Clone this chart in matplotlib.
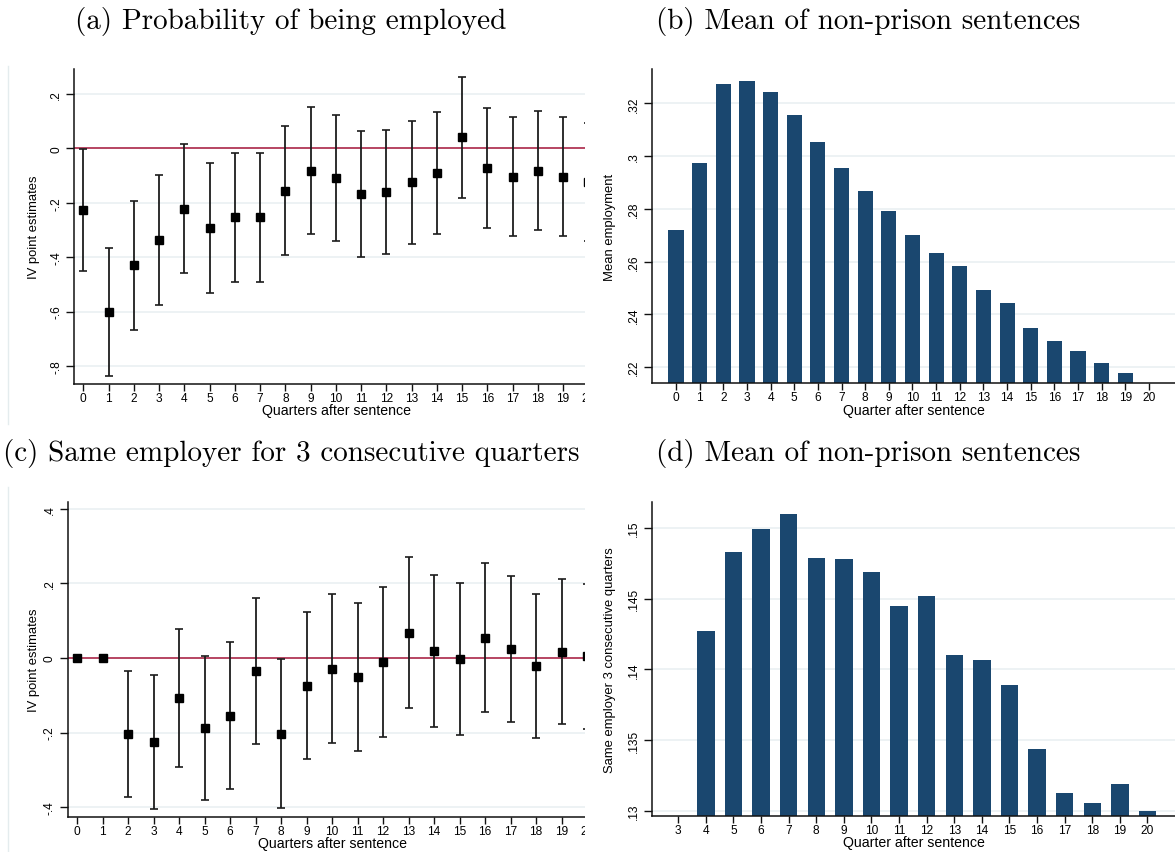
import matplotlib.pyplot as plt
from matplotlib.patches import Rectangle
from matplotlib.lines import Line2D

W, H = 1175, 853

# (a) IV estimates, probability of being employed
a_quarters = list(range(21))
a_est = [-0.227, -0.602, -0.429, -0.337, -0.223, -0.293, -0.252, -0.252, -0.157, -0.083, -0.109,
         -0.168, -0.161, -0.124, -0.091, 0.042, -0.072, -0.105, -0.085, -0.105, -0.124]
a_hi = [-0.002, -0.365, -0.192, -0.098, 0.015, -0.054, -0.016, -0.016, 0.081, 0.151, 0.123,
        0.063, 0.069, 0.102, 0.134, 0.263, 0.147, 0.115, 0.136, 0.114, 0.092]
a_lo = [-0.451, -0.837, -0.667, -0.576, -0.460, -0.531, -0.490, -0.490, -0.392, -0.316, -0.342,
        -0.401, -0.390, -0.350, -0.315, -0.181, -0.294, -0.324, -0.300, -0.321, -0.341]
a_yticks = [0.2, 0, -0.2, -0.4, -0.6, -0.8]
a_ylabels = ['.2', '0', '-.2', '-.4', '-.6', '-.8']

# (b) mean employment, non-prison sentences
b_quarters = list(range(20))
b_mean = [0.2720, 0.2974, 0.3273, 0.3285, 0.3243, 0.3156, 0.3054, 0.2955, 0.2868, 0.2792,
          0.2701, 0.2633, 0.2584, 0.2493, 0.2444, 0.2349, 0.2300, 0.2262, 0.2216, 0.2179]
b_xticks = list(range(21))
b_yticks = [0.22, 0.24, 0.26, 0.28, 0.30, 0.32]
b_ylabels = ['.22', '.24', '.26', '.28', '.3', '.32']

# (c) IV estimates, same employer 3 consecutive quarters
c_quarters = list(range(21))
c_est = [0, 0, -0.204, -0.225, -0.107, -0.188, -0.155, -0.035, -0.204, -0.075, -0.029,
         -0.051, -0.011, 0.067, 0.019, -0.003, 0.054, 0.024, -0.021, 0.016, 0.005]
c_hi = [0, 0, -0.036, -0.045, 0.079, 0.005, 0.043, 0.162, -0.004, 0.124, 0.172,
        0.148, 0.190, 0.270, 0.223, 0.200, 0.254, 0.221, 0.172, 0.211, 0.199]
c_lo = [0, 0, -0.372, -0.404, -0.291, -0.380, -0.350, -0.231, -0.402, -0.272, -0.229,
        -0.250, -0.211, -0.135, -0.186, -0.207, -0.146, -0.172, -0.215, -0.178, -0.190]
c_yticks = [0.4, 0.2, 0, -0.2, -0.4]
c_ylabels = ['.4', '.2', '0', '-.2', '-.4']

# (d) same employer 3 consecutive quarters, non-prison sentences
d_quarters = list(range(4, 21))
d_mean = [0.14273, 0.14829, 0.14994, 0.15100, 0.14787, 0.14780, 0.14693, 0.14447, 0.14520,
          0.14101, 0.14070, 0.13889, 0.13438, 0.13127, 0.13057, 0.13191, 0.13000]
d_xticks = list(range(3, 21))
d_yticks = [0.13, 0.135, 0.14, 0.145, 0.15]
d_ylabels = ['.13', '.135', '.14', '.145', '.15']

titles = ['(a) Probability of being employed', '(b) Mean of non-prison sentences',
          '(c) Same employer for 3 consecutive quarters', '(d) Mean of non-prison sentences']

navy = '#1a476f'
grid_c = '#e8eff1'
zero_c = '#a8183c'
sans = ['Liberation Sans', 'DejaVu Sans']

fig = plt.figure(figsize=(W / 100, H / 100), dpi=100)


def px_axes(l, t, r, b):
    return fig.add_axes([l / W, 1 - b / H, (r - l) / W, (b - t) / H])


def stata(ax, yticks, ylabels, xticks, xlabel, ylabel, ylab_x, xlab_y):
    for s in ['top', 'right']:
        ax.spines[s].set_visible(False)
    for s in ['left', 'bottom']:
        ax.spines[s].set_linewidth(1.1)
        ax.spines[s].set_color('#111111')
    ax.set_yticks(yticks, ylabels, rotation=90, va='center', fontsize=8.6, family=sans)
    ax.set_xticks(xticks, [str(q) for q in xticks], fontsize=8.6, family=sans)
    ax.tick_params(axis='y', length=6, width=1, pad=2.5, color='#111111')
    ax.tick_params(axis='x', length=5, width=1, pad=0.8, color='#111111')
    ax.yaxis.grid(True, color=grid_c, lw=1.1)
    ax.set_axisbelow(True)
    ax.set_xlabel(xlabel, fontsize=10.2, family=sans)
    ax.set_ylabel(ylabel, fontsize=9.4, family=sans)
    bb = ax.get_position()
    w_px = bb.width * W
    h_px = bb.height * H
    ax.yaxis.set_label_coords((ylab_x - bb.x0 * W) / w_px, 0.5)
    ax.xaxis.set_label_coords(0.5, -(xlab_y - (1 - bb.y0) * H) / h_px)


def iv_panel(ax, x, est, lo, hi):
    ax.axhline(0, color=zero_c, lw=1.1, zorder=1.5)
    yerr = [[e - l for e, l in zip(est, lo)], [h - e for e, h in zip(est, hi)]]
    ax.errorbar(x, est, yerr=yerr, fmt='s', color='black', ms=6.3, ecolor='#1c1c1c',
                elinewidth=1.3, capsize=2.9, capthick=1.2, zorder=3)


# panel a
ax_a = px_axes(74, 70, 598, 385)
iv_panel(ax_a, a_quarters, a_est, a_lo, a_hi)
ax_a.set_xlim(-0.368, 20.38)
ax_a.set_ylim(-0.8665, 0.2915)
stata(ax_a, a_yticks, a_ylabels, a_quarters, 'Quarters after sentence', 'IV point estimates', 39.5, 404.5)

# panel b
ax_b = px_axes(652, 70, 1175, 384.3)
ax_b.bar(b_quarters, b_mean, width=0.64, color=navy, zorder=2)
ax_b.set_xlim(-1.015, 21.1)
ax_b.set_ylim(0.2139, 0.333)
stata(ax_b, b_yticks, b_ylabels, b_xticks, 'Quarter after sentence', 'Mean employment', 616, 404)

# panel c
ax_c = px_axes(67.7, 502.7, 598, 817.7)
iv_panel(ax_c, c_quarters, c_est, c_lo, c_hi)
ax_c.set_xlim(-0.365, 20.43)
ax_c.set_ylim(-0.4255, 0.419)
stata(ax_c, c_yticks, c_ylabels, c_quarters, 'Quarters after sentence', 'IV point estimates', 39.5, 837)

# panel d
ax_d = px_axes(652, 502.7, 1175, 817)
ax_d.bar(d_quarters, d_mean, width=0.63, color=navy, zorder=2)
ax_d.set_xlim(2.047, 21.0)
ax_d.set_ylim(0.12962, 0.15188)
stata(ax_d, d_yticks, d_ylabels, d_xticks, 'Quarter after sentence', 'Same employer 3 consecutive quarters', 616, 836.5)

# the left graphs are cut off on the right
fig.add_artist(Rectangle((585 / W, 0), 14 / W, 1, transform=fig.transFigure,
                         facecolor='white', edgecolor='none', zorder=10))
# faint graph-region borders
fig.add_artist(Line2D([7.5 / W, 7.5 / W], [1 - 67 / H, 1 - 425 / H], transform=fig.transFigure,
                      color='#e4ecee', lw=1))
fig.add_artist(Line2D([7.5 / W, 7.5 / W], [1 - 488 / H, 0], transform=fig.transFigure,
                      color='#e4ecee', lw=1))

for t, (x, y) in zip(titles, [(291, 21), (868, 21), (291, 454), (868, 454)]):
    fig.text(x / W, 1 - y / H, t, ha='center', va='center', family='cmr10', fontsize=21)

fig.savefig('out.png', dpi=100, facecolor='white')
